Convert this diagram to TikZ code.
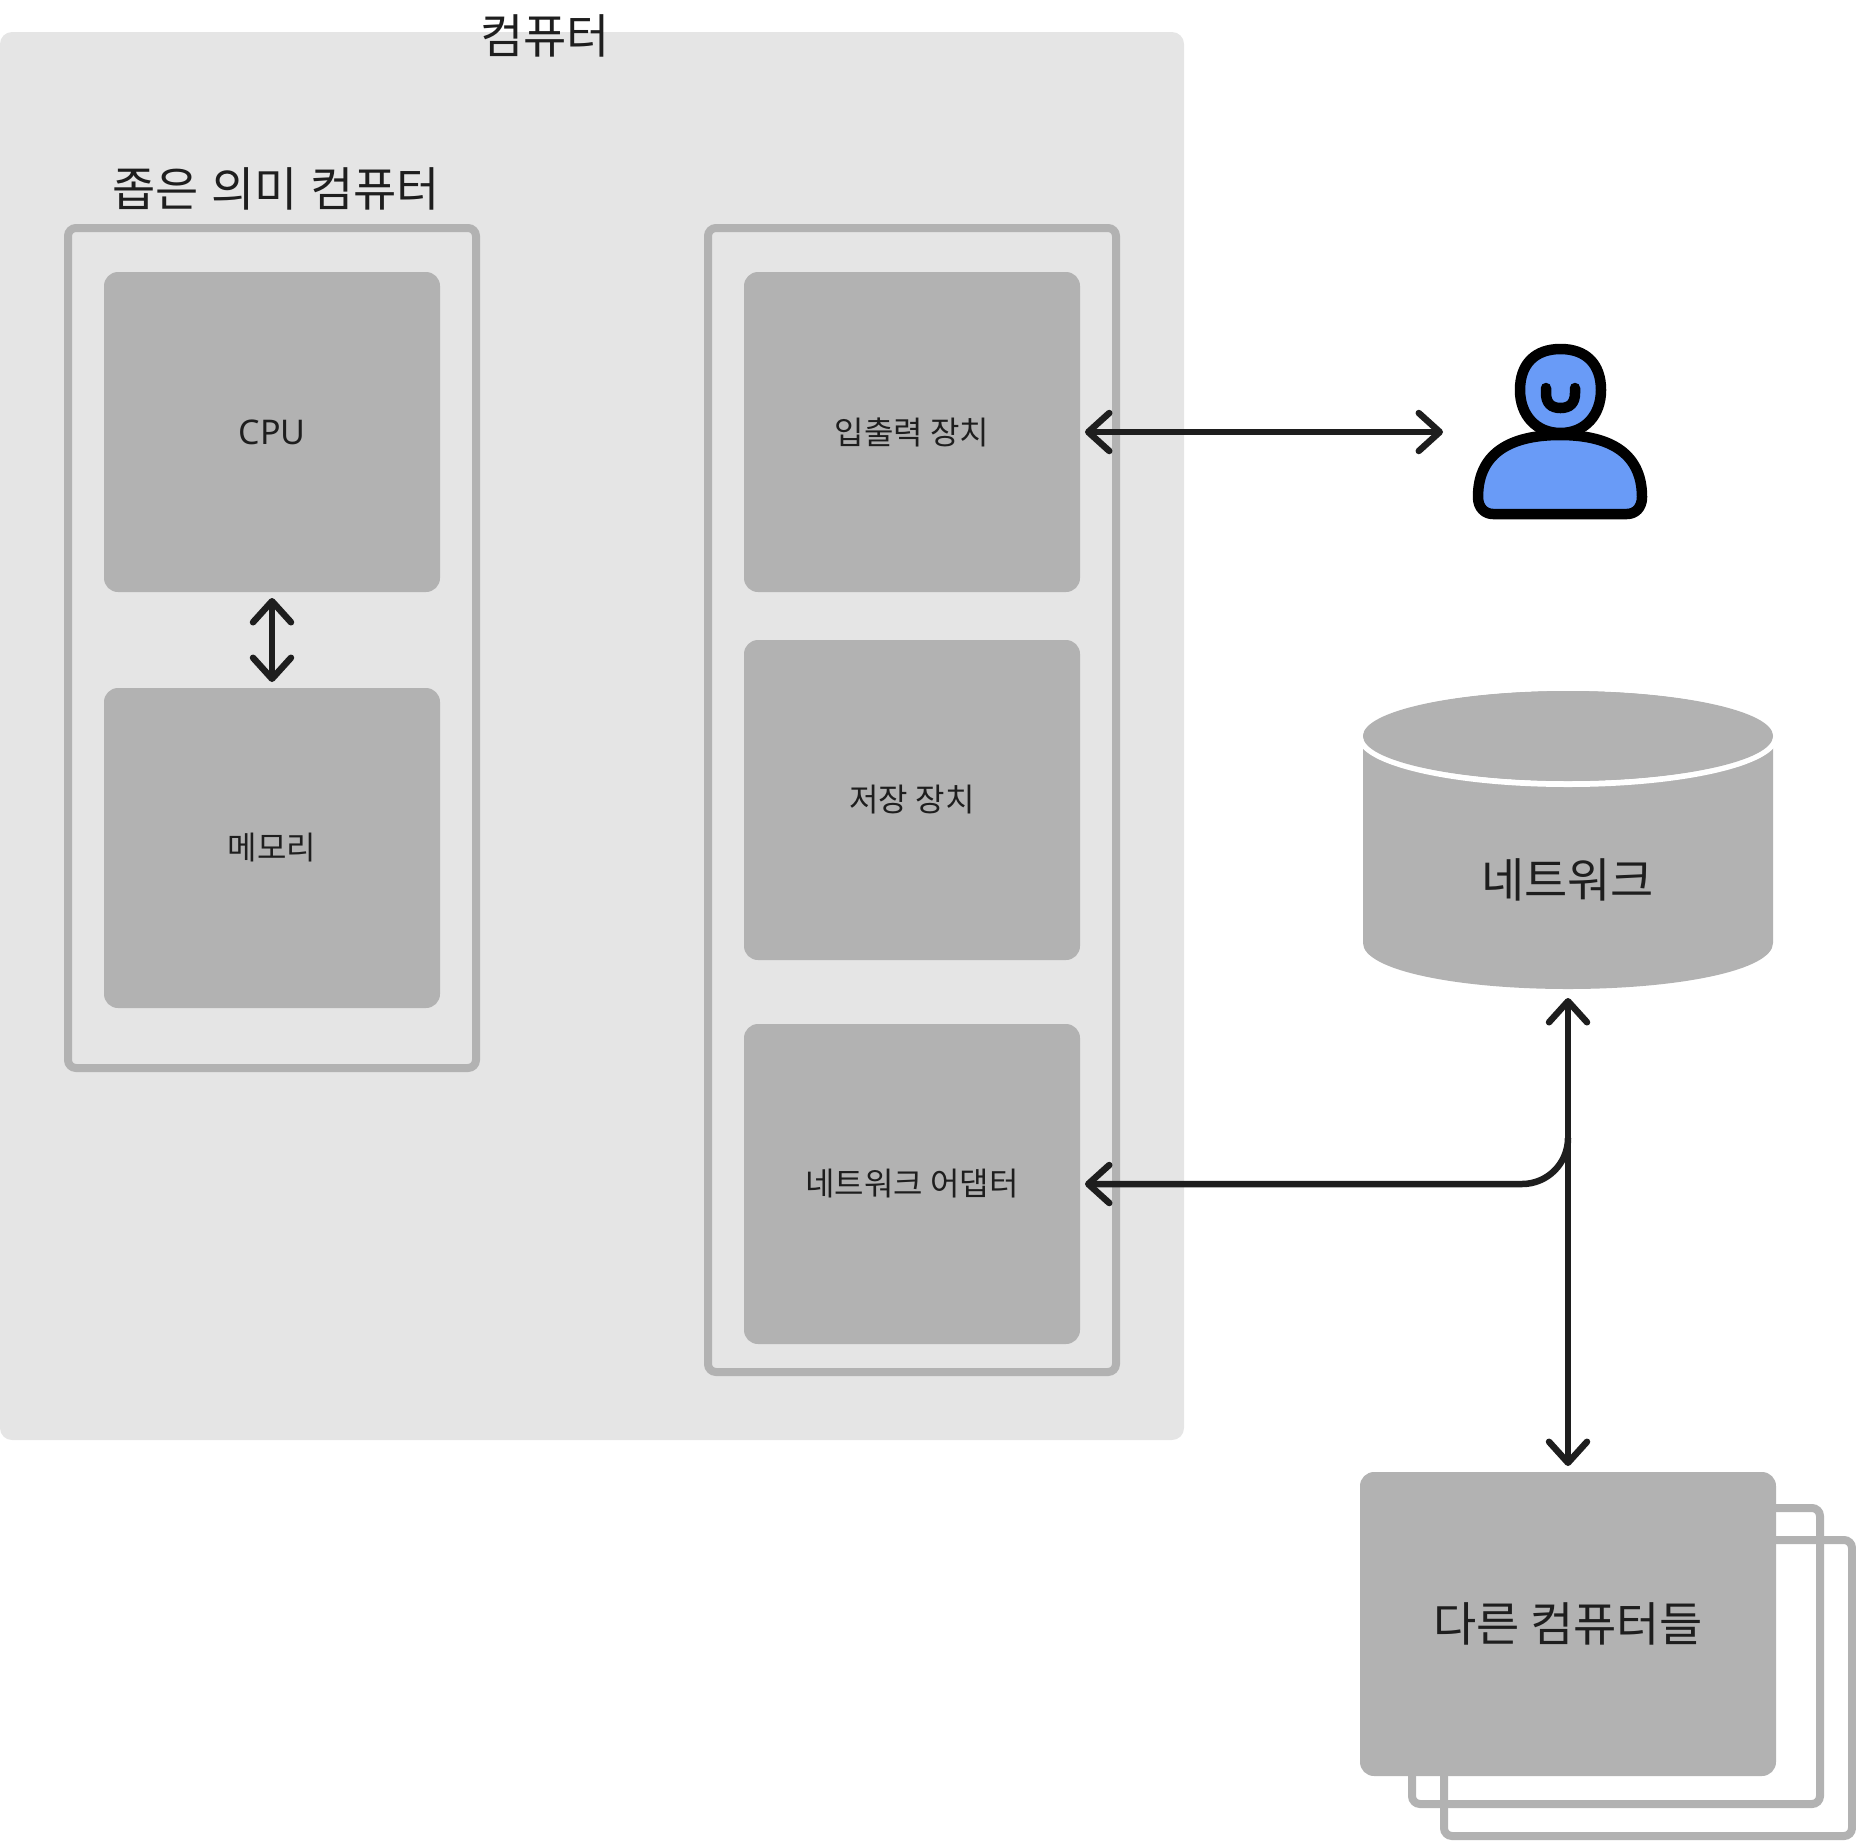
\documentclass[tikz,border=0pt]{standalone}
\usepackage{fontspec}
\setmainfont{Noto Sans CJK KR}
\newfontfamily\latinfont{Noto Sans}
\usetikzlibrary{arrows.meta}
\definecolor{outerbg}{HTML}{E5E5E5}
\definecolor{boxgrey}{HTML}{B2B2B2}
\definecolor{ink}{HTML}{1E1E1E}
\definecolor{personblue}{HTML}{699BF7}
\tikzset{
  x=1pt,y=-1pt,
  every node/.style={inner sep=0pt,outer sep=0pt,text=ink},
  greybox/.style={draw=none,fill=boxgrey,rounded corners=14pt,minimum width=336pt,minimum height=320pt,anchor=north west,font=\fontsize{32}{36}\selectfont},
  framebox/.style={draw=boxgrey,line width=8pt,fill=none,rounded corners=8pt},
  biglabel/.style={font=\fontsize{47}{51}\selectfont},
  barb/.tip={Straight Barb[length=21pt,width=38pt,line width=6.5pt,round]},
  conn/.style={draw=ink,line width=6.5pt,{barb}-{barb}},
  personline/.style={draw=black,line width=10.5pt,fill=personblue,line join=round},
}
\begin{document}
\begin{tikzpicture}
\useasboundingbox (0,0) rectangle (1856,1840);
% outer computer panel
\fill[outerbg,rounded corners=12pt] (0,32) rectangle (1184,1440);
\node[biglabel] (computer) at (545,36) {컴퓨터};
% narrow-sense computer
\draw[framebox] (68,228) rectangle (476,1068);
\node[biglabel] (narrow) at (276,189) {좁은\kern2pt{} 의미\kern2pt{} 컴퓨터};
\node[greybox] (cpu) at (104,272) {\fontsize{34}{38}\selectfont\latinfont CPU};
\node[greybox] (mem) at (104,688) {\raisebox{-1pt}{메모리}};
% peripherals
\draw[framebox] (708,228) rectangle (1116,1372);
\node[greybox] (io) at (744,272) {입출력 장치};
\node[greybox] (disk) at (744,640) {\raisebox{-1pt}{저장 장치}};
\node[greybox] (nic) at (744,1024) {\raisebox{-1pt}{네트워크 어댑터}};
% person
\node[minimum width=174pt,minimum height=175pt] (person) at (1560,432) {};
\draw[personline] (1560.5,349) .. controls (1586,349) and (1601,364) .. (1601,390)
  .. controls (1601,415) and (1585,433) .. (1560.5,433)
  .. controls (1536,433) and (1520,415) .. (1520,390)
  .. controls (1520,364) and (1535,349) .. (1560.5,349) -- cycle;
\draw[personline] (1560,435) .. controls (1605,435) and (1642,450) .. (1642,497)
  .. controls (1642,508) and (1635,514) .. (1627,514) -- (1493,514)
  .. controls (1485,514) and (1478,508) .. (1478,497)
  .. controls (1478,450) and (1515,435) .. (1560,435) -- cycle;
\draw[draw=black,line width=10.5pt,line cap=round,fill=none] (1546,388) -- (1546,393)
  .. controls (1546,403) and (1551,408) .. (1560.5,408)
  .. controls (1570,408) and (1575,403) .. (1575,393) -- (1575,388);
% network cylinder
\node[minimum width=410pt,minimum height=298pt] (net) at (1568,840) {};
\fill[boxgrey] (1363,736) -- (1773,736)
  -- (1773,943) .. controls (1773,970) and (1680,989) .. (1568,989)
  .. controls (1456,989) and (1363,970) .. (1363,943) -- cycle;
\draw[white,line width=6pt,fill=boxgrey] (1568,736) ellipse[x radius=208,y radius=48];
\fill[boxgrey] (1568,736) ellipse[x radius=205,y radius=45];
\node[biglabel] (netlabel) at (1567.5,880) {네트워크};
% other computers
\draw[framebox] (1444,1540) rectangle (1852,1836);
\draw[framebox] (1412,1508) rectangle (1820,1804);
\node[fill=boxgrey,rounded corners=14pt,minimum width=416pt,minimum height=304pt,biglabel] (others) at (1568,1624) {다른 컴퓨터들};
% connectors
\draw[conn,shorten <=6pt,shorten >=6pt] (cpu.south) -- (mem.north);
\draw[conn,shorten <=5pt,shorten >=30pt] (io.east) -- (person.west);
\draw[conn,shorten <=9pt,shorten >=6pt] (net.south) -- (others.north);
\draw[draw=ink,line width=6.5pt,rounded corners=46pt,shorten <=5pt,{barb}-] (nic.east) -- (net.south |- nic.east) -- ([yshift=46pt]net.south |- nic.east);
\end{tikzpicture}
\end{document}
